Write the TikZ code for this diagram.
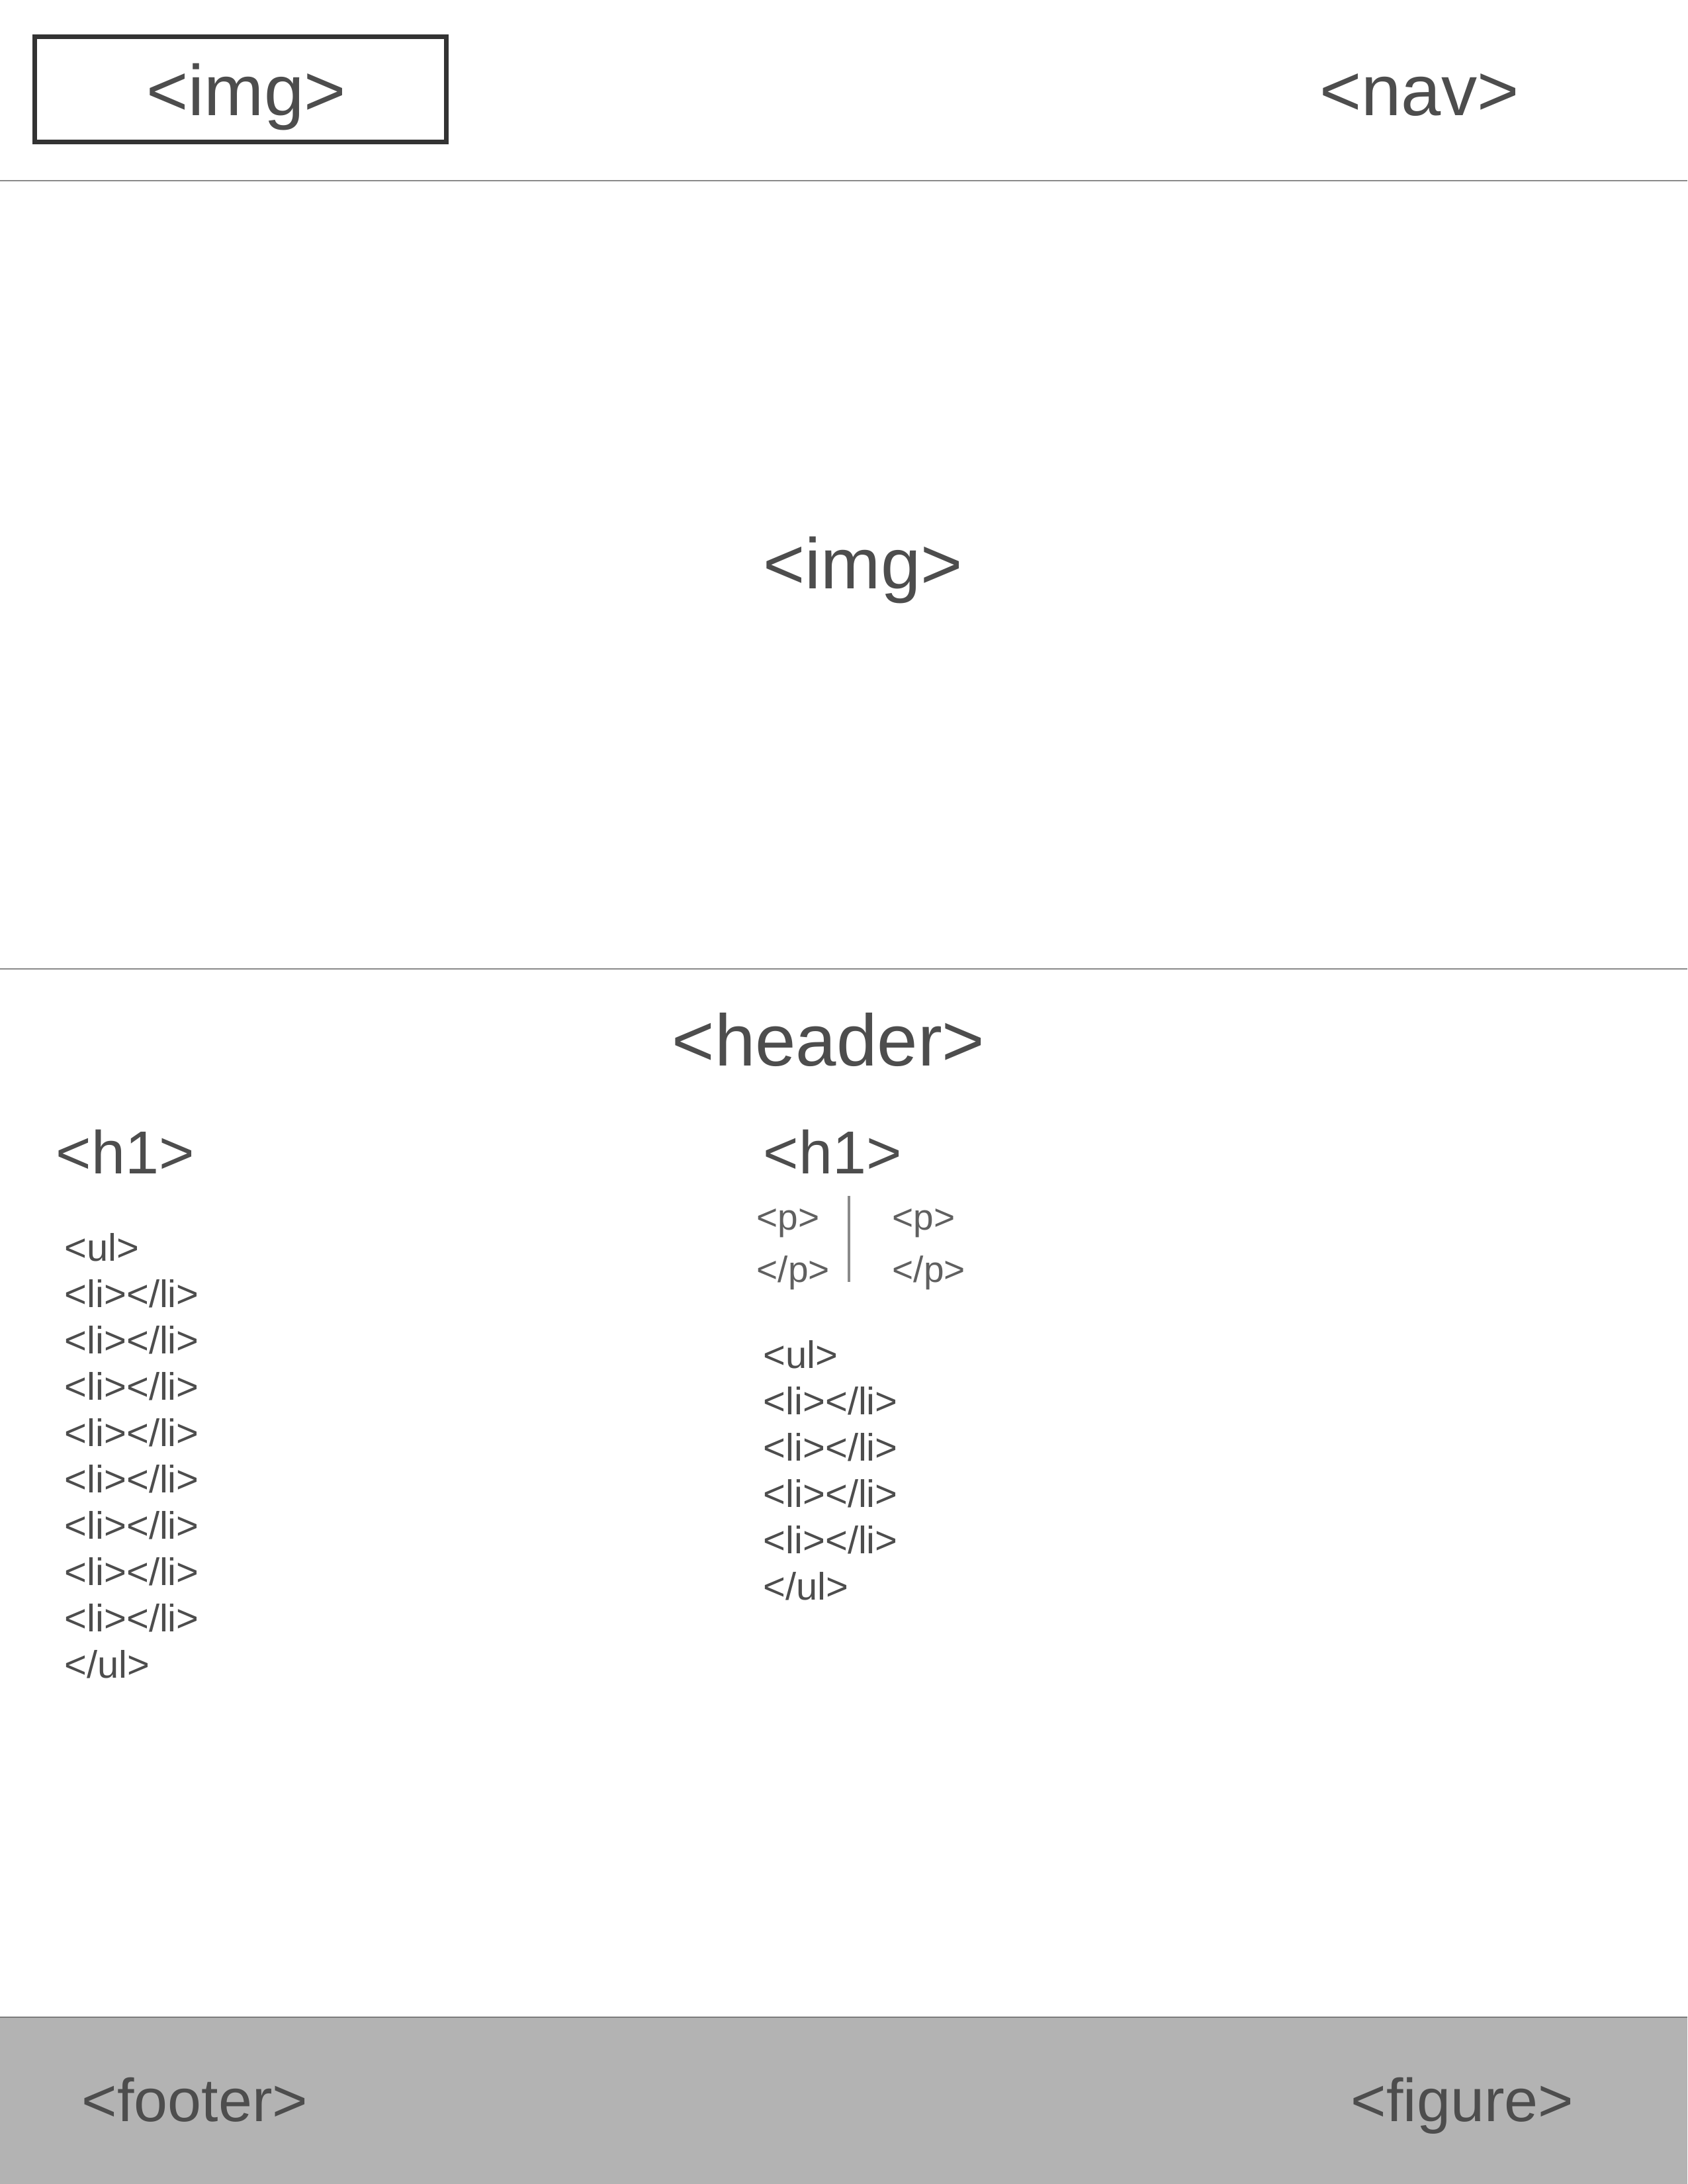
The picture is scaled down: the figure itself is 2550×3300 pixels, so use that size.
\documentclass[tikz,border=0pt]{standalone}
\usepackage{fontspec}
\setmainfont{Liberation Sans}
\definecolor{txt}{HTML}{4D4D4D}
\definecolor{ptxt}{HTML}{606060}
\definecolor{rule}{HTML}{8A8A8A}
\definecolor{foot}{HTML}{B3B3B3}
\definecolor{boxc}{HTML}{333333}
\tikzset{
  big/.style={inner sep=0pt, text=txt, font=\fontsize{26}{30}\selectfont},
  mid/.style={inner sep=0pt, text=txt, font=\fontsize{22}{26}\selectfont},
  small/.style={inner sep=0pt, text=txt, font=\fontsize{13.9}{16}\selectfont, anchor=base west},
  ptag/.style={inner sep=0pt, text=ptxt, font=\fontsize{13.2}{16}\selectfont, anchor=base west},
}
\begin{document}
\begin{tikzpicture}[x=0.24pt,y=-0.24pt]
\useasboundingbox (0,0) rectangle (2550,3300);
% footer band
\fill[foot] (0,3048) rectangle (2550,3300);
\draw[rule!90!black, line width=0.7pt] (0,3048) -- (2550,3048);
% rules
\draw[rule, line width=0.5pt] (0,273) -- (2550,273);
\draw[rule, line width=0.5pt] (0,1464) -- (2550,1464);
% logo box
\draw[boxc, line width=1.68pt] (52.5,55.5) rectangle (674.5,214.5);
\node[big, anchor=base] (logo) at (372,174) {<img>};
\node[big, anchor=base] (nav) at (2145,174) {<nav>};
\node[big, anchor=base] (hero) at (1304,889) {<img>};
\node[big, anchor=base, font=\fontsize{26.5}{30}\selectfont] (header) at (1252,1610) {<header>};
\node[mid, anchor=base west] (h1a) at (84,1773) {<h1>};
\node[mid, anchor=base west] (h1b) at (1153,1773) {<h1>};
% left list
\node[small] (ula) at (97,1905) {<ul>};
\foreach \i in {1,...,8} {
  \node[small] (lia\i) at (97,{1905+70*\i}) {<li></li>};
}
\node[small] (ulae) at (97,2535) {</ul>};
% right list
\node[small] (ulb) at (1153,2067) {<ul>};
\foreach \i in {1,...,4} {
  \node[small] (lib\i) at (1153,{2067+70*\i}) {<li></li>};
}
\node[small] (ulbe) at (1153,2417) {</ul>};
% paragraphs
\node[ptag] (p1) at (1143,1858) {<p>};
\node[ptag] (p1e) at (1143,1937) {</p>};
\node[ptag] (p2) at (1348,1858) {<p>};
\node[ptag] (p2e) at (1348,1937) {</p>};
\coordinate (vt) at (1283,1807);
\coordinate (vb) at (1283,1937);
\draw[rule, line width=0.9pt] (vt) -- (vb);
\node[mid, anchor=base west] (footer) at (123,3205) {<footer>};
\node[mid, anchor=base west] (figure) at (2041,3205) {<figure>};
\end{tikzpicture}
\end{document}
